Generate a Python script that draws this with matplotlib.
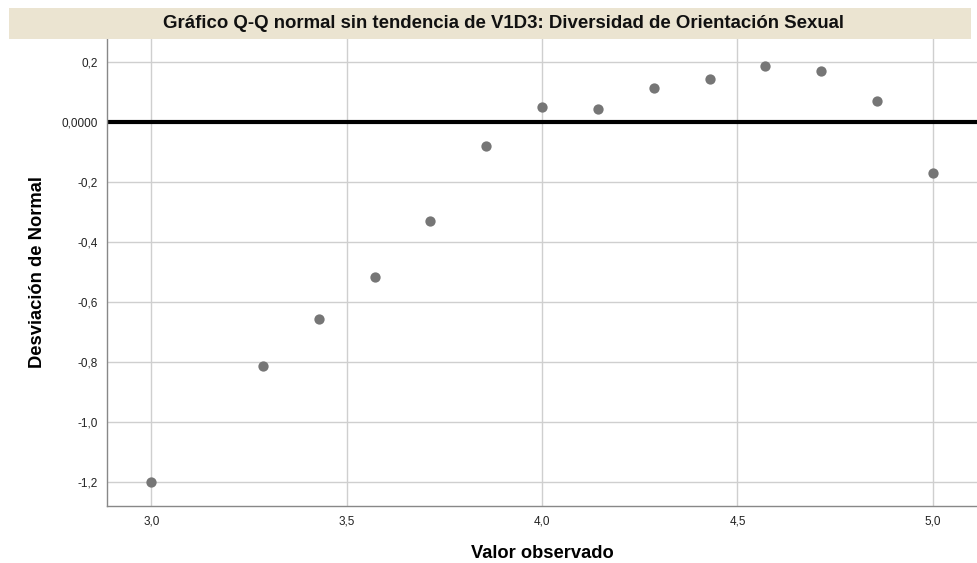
import matplotlib.pyplot as plt
from matplotlib.patches import Rectangle
from matplotlib.ticker import FuncFormatter

plt.rcParams['font.family'] = ['Liberation Sans', 'DejaVu Sans']

observado = [3.0, 3.2857, 3.4286, 3.5714, 3.7143, 3.8571, 4.0,
             4.1429, 4.2857, 4.4286, 4.5714, 4.7143, 4.8571, 5.0]
desviacion = [-1.199, -0.812, -0.657, -0.516, -0.328, -0.079, 0.052,
              0.043, 0.114, 0.144, 0.187, 0.171, 0.070, -0.168]

xticks = [3.0, 3.5, 4.0, 4.5, 5.0]
yticks = [-1.2, -1.0, -0.8, -0.6, -0.4, -0.2, 0.0, 0.2]

fig = plt.figure(figsize=(9.78, 5.63), dpi=100)
ax = fig.add_axes([0.1099, 0.1018, 0.8891, 0.8295])

# banda del titulo
fig.patches.append(Rectangle((9 / 978, 1 - 38.7 / 563), 962 / 978, 30.7 / 563,
                             transform=fig.transFigure, facecolor='#ebe4d1',
                             edgecolor='none', zorder=0))
fig.text(504 / 978, 1 - 23.5 / 563,
         'Gráfico Q-Q normal sin tendencia de V1D3: Diversidad de Orientación Sexual',
         ha='center', va='center', fontsize=13.4, fontweight='bold', color='#111111')

ax.scatter(observado, desviacion, s=55, color='#767676', zorder=3, linewidths=0)
ax.axhline(0, color='black', lw=3, zorder=2)

ax.set_xlim(2.888, 5.113)
ax.set_ylim(-1.278, 0.279)
ax.set_xticks(xticks)
ax.set_yticks(yticks)

def fmt_y(v, pos):
    if abs(v) < 1e-9:
        return '0,0000'
    return f'{v:.1f}'.replace('.', ',')

ax.xaxis.set_major_formatter(FuncFormatter(lambda v, p: f'{v:.1f}'.replace('.', ',')))
ax.yaxis.set_major_formatter(FuncFormatter(fmt_y))
ax.tick_params(length=0, labelsize=8.5, colors='#222222', pad=7)
ax.grid(True, color='#cfcfcf', lw=1)
ax.set_axisbelow(True)

for s in ['top', 'right']:
    ax.spines[s].set_visible(False)
for s in ['left', 'bottom']:
    ax.spines[s].set_color('#888888')
    ax.spines[s].set_linewidth(1)

ax.set_xlabel('Valor observado', fontsize=13.2, fontweight='bold', labelpad=13)
ax.set_ylabel('Desviación de Normal', fontsize=13.2, fontweight='bold', labelpad=11)

fig.savefig('out.png', dpi=100)
